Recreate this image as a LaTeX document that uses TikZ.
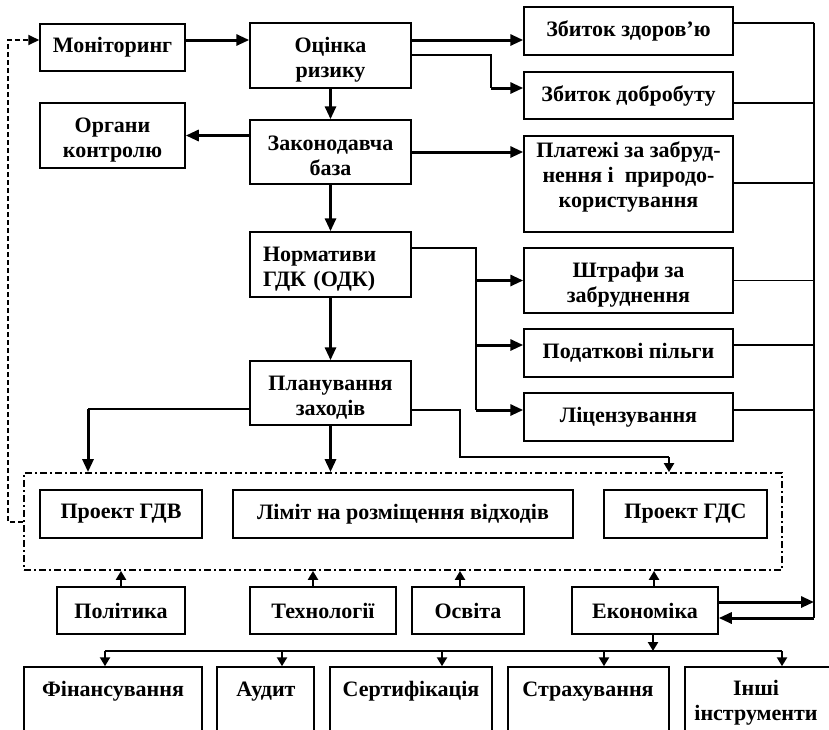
\documentclass[tikz,border=0pt]{standalone}
\usepackage{fontspec}
\setmainfont{Liberation Serif}
\usetikzlibrary{arrows.meta,calc}
\newcommand\diagfont{\fontsize{22}{25}\selectfont\bfseries}
\newcommand\tdn{\rule{0pt}{23pt}}
\newcommand\tup{\rule[-19pt]{0pt}{1pt}}
\begin{document}
\begin{tikzpicture}[x=1pt,y=-1pt,
 box/.style={draw,line width=1.5pt,inner sep=0pt,align=center,font=\diagfont},
 obox/.style={draw,line width=1.5pt,inner sep=0pt},
 thk/.style={line width=3pt,-{Triangle[length=13pt,width=11pt]}},
 thn/.style={line width=1.4pt},
 sma/.style={line width=2.8pt,-{Triangle[length=9pt,width=10pt]}},
 lbl/.style={font=\diagfont,align=center,inner sep=0pt},
 fb/.style={line width=2pt,dash pattern=on 5pt off 3pt,-{Triangle[length=11pt,width=10pt]}}
]
\useasboundingbox (0,0) rectangle (829,729);
\clip (0,0) rectangle (829,729);

% left / centre column
\node[box,minimum width=145pt,minimum height=47pt] (mon) at (112.5,47.5) {Моніторинг};
\node[box,minimum width=161pt,minimum height=65pt] (ocin) at (330.5,55.5) {\tdn Оцінка\\ризику};
\node[box,minimum width=145pt,minimum height=65pt] (org) at (112.5,135.5) {\tdn Органи\\контролю};
\node[box,minimum width=161pt,minimum height=64pt] (zak) at (330.5,152) {\tdn Законодавча\\база};
\node[box,minimum height=65pt,text width=135pt,inner xsep=13pt,align=left] (norm) at (330.5,264.5) {\tdn Нормативи\\ГДК (ОДК)};
\node[box,minimum width=161pt,minimum height=64pt] (plan) at (330.5,393) {\tdn Планування\\заходів};

% right column
\node[box,minimum width=209pt,minimum height=48pt] (zd) at (628.5,31) {Збиток здоров’ю};
\node[box,minimum width=209pt,minimum height=47pt] (zdob) at (628.5,95.5) {Збиток добробуту};
\node[box,minimum width=209pt,minimum height=96pt] (plat) at (628.5,184) {Платежі за забруд-\\нення і~ природо-\\користування\tup};
\node[box,minimum width=209pt,minimum height=65pt] (shtr) at (628.5,280.5) {\tdn Штрафи за\\забруднення};
\node[box,minimum width=209pt,minimum height=48pt] (pod) at (628.5,353) {Податкові пільги};
\node[box,minimum width=209pt,minimum height=48pt] (lic) at (628.5,417) {Ліцензування};

% frame with projects
\node[draw,line width=1.8pt,dash pattern=on 7pt off 3pt on 2pt off 3pt,minimum width=758pt,minimum height=97pt,inner sep=0pt] (frame) at (403,521.5) {};
\node[box,minimum width=162pt,minimum height=48pt] (gdv) at (121,514) {Проект ГДВ};
\node[box,minimum width=340pt,minimum height=48pt] (lim) at (403,514) {Ліміт на розміщення відходів};
\node[box,minimum width=163pt,minimum height=48pt] (gds) at (685.5,514) {Проект ГДС};

% influences
\node[box,minimum width=128pt,minimum height=47pt] (pol) at (121,610.5) {Політика};
\node[box,minimum width=146pt,minimum height=47pt] (tech) at (323,610.5) {Технології};
\node[box,minimum width=112pt,minimum height=47pt] (osv) at (468,610.5) {Освіта};
\node[box,minimum width=146pt,minimum height=47pt] (eko) at (645,610.5) {Економіка};

% bottom instruments (cut by the page edge)
\node[obox,minimum width=178pt,minimum height=100pt] (fin) at (113,717) {};
\node[obox,minimum width=97pt,minimum height=100pt] (aud) at (265.5,717) {};
\node[obox,minimum width=162pt,minimum height=100pt] (sert) at (411,717) {};
\node[obox,minimum width=161pt,minimum height=100pt] (strah) at (588.5,717) {};
\node[obox,minimum width=160pt,minimum height=100pt] (inshi) at (765,717) {};
\node[lbl,anchor=base] (tfin) at (113,696) {Фінансування};
\node[lbl,anchor=base] (taud) at (266,696) {Аудит};
\node[lbl,anchor=base] (tsert) at (411,696) {Сертифікація};
\node[lbl,anchor=base] (tstrah) at (588,696) {Страхування};
\node[lbl,anchor=north] (tinshi) at (756,680.5) {Інші\\інструменти};

% coordinates
\coordinate (c2) at (491,88);
\coordinate (n1) at (476,248);
\coordinate (n2) at (476,410);
\coordinate (p1) at (460,457);
\coordinate (p2) at (669,457);
\coordinate (p3) at (88,409);
\coordinate (d1) at (8,522);
\coordinate (r1) at (814,23);
\coordinate (r2) at (814,618);
\coordinate (bl) at (105,651);
\coordinate (b2) at (282,651);
\coordinate (b3) at (442,651);
\coordinate (b4) at (604,651);
\coordinate (br) at (782,651);

% main flow
\draw[thk] ([yshift=7.5pt]mon.east) -- ([yshift=7.5pt]mon.east -| ocin.west);
\draw[thk] ([yshift=15.5pt]ocin.east) -- ([yshift=15.5pt]ocin.east -| zd.west);
\draw[thn] ([yshift=0.5pt]ocin.east) -| (c2);
\draw[thk] (c2) -- (c2 -| zdob.west);
\draw[thk] (ocin.south) -- (zak.north);
\draw[thk] (org.east -| zak.west) -- (org.east);
\draw[thk] (zak.east) -- (zak.east -| plat.west);
\draw[thk] (zak.south) -- (norm.north);
\draw[thk] (norm.south) -- (plan.north);

\draw[thn] ([yshift=16.5pt]norm.east) -- (n1) -- (n2);
\draw[thk] (n1 |- shtr.west) -- (shtr.west);
\draw[thk] ([yshift=8pt]pod.west -| n1) -- ([yshift=8pt]pod.west);
\draw[thk] (n2) -- (n2 -| lic.west);

\draw[thn] ([yshift=-17pt]plan.east) -| (p1) -- (p2);
\draw[sma] (p2) -- (p2 |- frame.north);
\draw[thn] ([yshift=-16pt]plan.west) -- (p3);
\draw[thk] (p3) -- (p3 |- frame.north);
\draw[thk] (plan.south) -- (plan.south |- frame.north);

% feedback
\draw[fb] (frame.west |- d1) -- (d1) |- ([yshift=7.5pt]mon.west);

% right collector
\draw[thn] ([yshift=8pt]zd.east) -- ([yshift=8pt]zd.east -| r1);
\draw[thn] ([yshift=-7.5pt]zdob.east) -- ([yshift=-7.5pt]zdob.east -| r1);
\draw[thn] ([yshift=1pt]plat.east) -- ([yshift=1pt]plat.east -| r1);
\draw[thn] (shtr.east) -- (shtr.east -| r1);
\draw[thn] ([yshift=8pt]pod.east) -- ([yshift=8pt]pod.east -| r1);
\draw[thn] ([yshift=7pt]lic.east) -- ([yshift=7pt]lic.east -| r1);
\draw[thn] (r1) -- (r2);
\draw[thk] ([yshift=8.5pt]eko.east) -- ([yshift=8.5pt]eko.east -| r1);
\draw[thk] (r2) -- (r2 -| eko.east);

% influences to frame
\draw[sma] (pol.north) -- (pol.north |- frame.south);
\draw[sma] ([xshift=-10pt]tech.north) -- ([xshift=-10pt]tech.north |- frame.south);
\draw[sma] ([xshift=-8pt]osv.north) -- ([xshift=-8pt]osv.north |- frame.south);
\draw[sma] ([xshift=9pt]eko.north) -- ([xshift=9pt]eko.north |- frame.south);

% economy to instruments
\draw[sma] ([xshift=8pt]eko.south) -- ([xshift=8pt]eko.south |- bl);
\draw[line width=1.6pt] (bl) -- (br);
\draw[sma] (bl) -- (bl |- fin.north);
\draw[sma] (b2) -- (b2 |- aud.north);
\draw[sma] (b3) -- (b3 |- sert.north);
\draw[sma] (b4) -- (b4 |- strah.north);
\draw[sma] (br) -- (br |- inshi.north);
\end{tikzpicture}
\end{document}
